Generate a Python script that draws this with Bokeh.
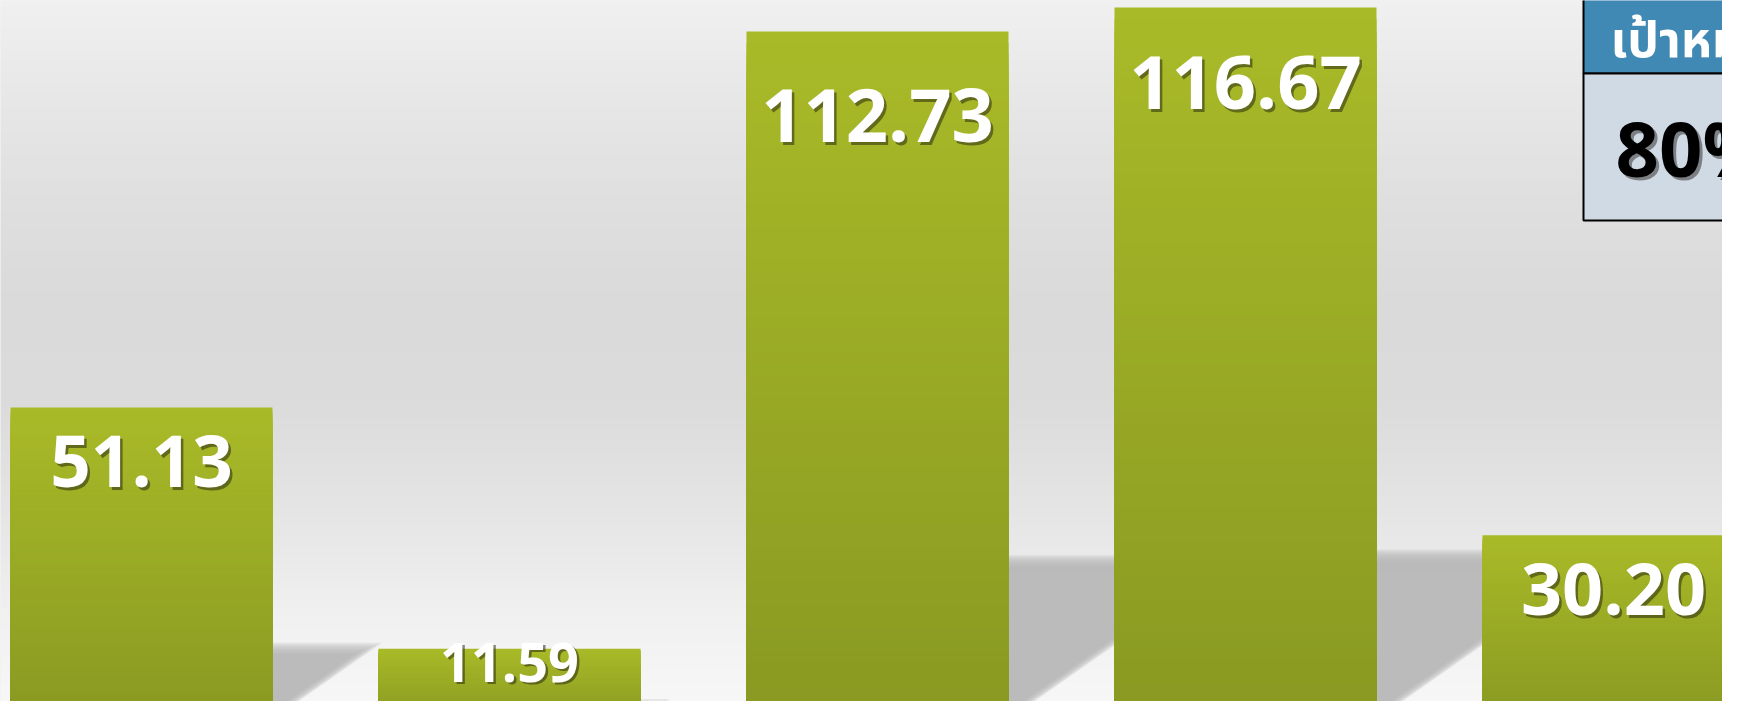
import numpy as np
from bokeh.plotting import figure
from bokeh.models import Range1d, ColumnDataSource, Label, BoxAnnotation
from bokeh.embed import file_html
from bokeh.resources import INLINE

# ---------------- data ----------------
positions = [0, 1, 2, 3, 4]
values = [51.13, 11.59, 112.73, 116.67, 30.20]
value_labels = ["51.13", "11.59", "112.73", "116.67", "30.20"]
target_title = "เป้าหมาย"
target_value = "80%"

# ---------------- layout (reference pixel geometry, 1:1) ----------------
W, H = 1722, 701
PX_PER_SLOT = 368.0      # px between bar centres
FIRST_CENTER = 141.0     # px of first bar centre
PX_PER_UNIT = 6.103      # px per value unit
BASE_Y = 719.0           # px row of value 0
BAR_W = 262.0 / PX_PER_SLOT
BASELINE_FIX = 0.40      # em shift of the alphabetic baseline in the svg renderer

x_start = -FIRST_CENTER / PX_PER_SLOT
x_end = (W - FIRST_CENTER) / PX_PER_SLOT
y_start = (BASE_Y - H) / PX_PER_UNIT
y_end = BASE_Y / PX_PER_UNIT


def rx(px):
    return (px - FIRST_CENTER) / PX_PER_SLOT


def ry(py):
    return (BASE_Y - py) / PX_PER_UNIT


p = figure(width=W, height=H, x_range=Range1d(x_start, x_end), y_range=Range1d(y_start, y_end),
           x_axis_type=None, y_axis_type=None, output_backend="svg", toolbar_location=None,
           min_border=0, min_border_left=0, min_border_right=0, min_border_top=0, min_border_bottom=0)
p.grid.visible = False
p.outline_line_color = None
p.background_fill_color = "#e6e6e6"
p.border_fill_color = "#e6e6e6"

# ---------------- background gradient ----------------
stops_y = [0, 100, 200, 300, 400, 480, 550, 620, 717]
stops_g = [240, 231, 223, 218, 219, 226, 233, 241, 248]
rows = H
img = np.zeros((rows, 1), dtype=np.uint32)
view = img.view(dtype=np.uint8).reshape((rows, 1, 4))
for r in range(rows):
    yref = H - r - 0.5
    g = int(round(np.interp(yref, stops_y, stops_g)))
    view[r, 0, :] = [g, g, g, 255]
p.image_rgba(image=[img], x=x_start, y=y_start, dw=x_end - x_start, dh=y_end - y_start)

# ---------------- cast shadows (soft, layered) ----------------
SLOPE = 0.7
for j in range(7):
    s = j * 2.0
    xs, ys = [], []
    for xpos, v in zip(positions, values):
        hs = 0.233 * v * PX_PER_UNIT - s + 4
        if hs <= 0:
            continue
        xl = xpos - BAR_W / 2
        xr = xpos + BAR_W / 2 - s / PX_PER_SLOT
        xt = xr + (hs / SLOPE) / PX_PER_SLOT
        xb = xr - (2 * PX_PER_UNIT / SLOPE) / PX_PER_SLOT
        ytop = hs / PX_PER_UNIT
        xs.append([xl, xb, xt, xl])
        ys.append([-2, -2, ytop, ytop])
    p.patches(xs, ys, fill_color="#b4b4b4", fill_alpha=0.27, line_color=None)

# ---------------- bars with vertical gradient ----------------
N = 60
top_c = np.array([169, 186, 40])
bot_c = np.array([137, 153, 34])
L, R, B, T, C = [], [], [], [], []
for xpos, v in zip(positions, values):
    for k in range(N - 1, -1, -1):
        t = v * (k + 1) / N
        f = (k + 0.5) / N
        c = bot_c + (top_c - bot_c) * f
        L.append(xpos - BAR_W / 2)
        R.append(xpos + BAR_W / 2)
        B.append(-1)
        T.append(t)
        C.append("#%02x%02x%02x" % tuple(int(round(q)) for q in c))
p.quad(left=L, right=R, bottom=B, top=T, fill_color=C, line_color=None)

# ---------------- value labels ----------------
label_size_px = [71, 54, 74, 74, 72]
label_drop = [82, 35, 114, 105, 83]   # px from bar top to baseline
offs = [d - BASELINE_FIX * s for d, s in zip(label_drop, label_size_px)]
src = ColumnDataSource(dict(x=positions, y=values, text=value_labels,
                            size=["%dpx" % s for s in label_size_px],
                            off=offs, off2=[o + 2.5 for o in offs]))
p.text(x="x", y="y", text="text", source=src, text_font={"value": "Open Sans"}, text_font_size="size",
       text_font_style="bold", text_align="center", text_baseline="alphabetic",
       y_offset="off2", x_offset=2.5, text_color="#2a2a10", text_alpha=0.55)
p.text(x="x", y="y", text="text", source=src, text_font={"value": "Open Sans"}, text_font_size="size",
       text_font_style="bold", text_align="center", text_baseline="alphabetic",
       y_offset="off", text_color="white")

# ---------------- target box ----------------
p.add_layout(BoxAnnotation(left=rx(1583), right=x_end + 1, top=y_end + 1, bottom=ry(73),
                           fill_color="#4189b5", fill_alpha=1, line_color="black", line_alpha=1,
                           line_width=2))
p.add_layout(BoxAnnotation(left=rx(1583), right=x_end + 1, top=ry(73), bottom=ry(220),
                           fill_color="#d0dae4", fill_alpha=1, line_color="black", line_alpha=1,
                           line_width=2))
p.add_layout(Label(x=rx(1610), y=ry(53 - 12), text=target_title, text_color="white",
                   text_font="Noto Sans Thai", text_font_size="50px", text_font_style="bold",
                   text_baseline="alphabetic"))
p.add_layout(Label(x=rx(1618), y=ry(180 - 30), text=target_value, text_color="#444444", text_alpha=0.6,
                   text_font="Open Sans", text_font_size="76px", text_font_style="bold",
                   text_baseline="alphabetic"))
p.add_layout(Label(x=rx(1615), y=ry(177 - 30), text=target_value, text_color="black",
                   text_font="Open Sans", text_font_size="76px", text_font_style="bold",
                   text_baseline="alphabetic"))

open("out.html", "w").write(file_html(p, INLINE))
